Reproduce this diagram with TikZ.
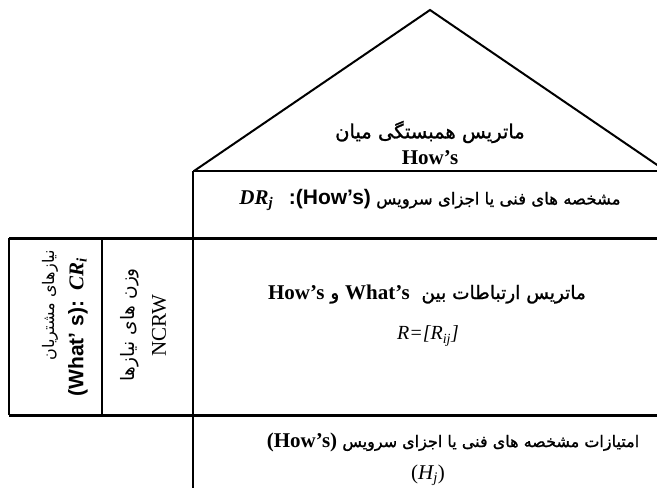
\documentclass[tikz,border=0pt]{standalone}
\usepackage{fontspec}
\setmainfont{Liberation Serif}
\newfontfamily\farsi[Script=Arabic]{DejaVu Sans}
\newfontfamily\farsib[Script=Arabic, FakeBold=1.2]{DejaVu Sans}
\newfontfamily\latsans{Liberation Sans}
\TeXXeTstate=1
\newcommand\latbf{\fontsize{21}{25}\selectfont\rmfamily\bfseries}
\newcommand\latsf{\fontsize{21}{25}\selectfont\latsans\bfseries}

\begin{document}
\begin{tikzpicture}[
  x=1pt, y=-1pt,
  edge/.style={draw=black, line width=2pt},
  thick edge/.style={draw=black, line width=3pt},
  txt/.style={inner sep=0pt, anchor=center, font=\fontsize{21}{25}\selectfont},
  fatxt/.style={inner sep=0pt, anchor=center, font=\farsib\fontsize{#1}{#1}\selectfont},
  farot/.style={inner sep=0pt, anchor=center, rotate=90, font=\farsi\fontsize{#1}{#1}\selectfont}
]
\useasboundingbox (0,0) rectangle (657,488);
\begin{scope}
\clip (0,0) rectangle (657,488);
% roof of the house
\draw[edge, line join=miter] (194,171) -- (430,10) -- (666,171);
\draw[edge] (193,171) -- (666,171);
% grid
\draw[edge] (193,171) -- (193,488);
\draw[thick edge] (9,238) -- (666,238);
\draw[thick edge] (9,415) -- (666,415);
\draw[edge] (9,238) -- (9,415);
\draw[edge] (102,238) -- (102,415);
\end{scope}

% roof
\node[fatxt=19.5] (roof) at (430,132) {\beginR ماتریس همبستگی میان\endR};
\node[txt, font=\latbf] (roofhows) at (430,158) {How’s};
% technical characteristics
\node[fatxt=16.5] (hows) at (430,200) {\beginR مشخصه های فنی یا اجزای سرویس \beginL{\latsf (How’s)}\endL{\latsf:}\ \ \ \beginL{\latbf\itshape DR\textsubscript{j}}\endL\endR};
% relationship matrix
\node[fatxt=18.5] (rel) at (427,294) {\beginR ماتریس ارتباطات بین\ \ \beginL{\latbf What’s}\endL{} و \beginL{\latbf How’s}\endL\endR};
\node[txt, font=\fontsize{20}{24}\selectfont\itshape] (rmat) at (428,336) {R=[R\textsubscript{ij}]};
% scores
\node[fatxt=16] (score) at (453,442) {\beginR امتیازات مشخصه های فنی یا اجزای سرویس \beginL{\latbf (How’s)}\endL\endR};
\node[txt] (hj) at (428,475) {(\textit{H\textsubscript{j}})};
% customer needs and weights
\node[farot=16] (needs) at (50,305) {\beginR نیازهای مشتریان\endR};
\node[txt, rotate=90] (whats) at (78,327) {{\latsf (What’ s):}\ \ {\bfseries\itshape CR\textsubscript{i}}};
\node[farot=18.5] (weight) at (130,325) {\beginR وزن های نیازها\endR};
\node[txt, rotate=90] (ncrw) at (159,326) {NCRW};
\end{tikzpicture}
\end{document}
